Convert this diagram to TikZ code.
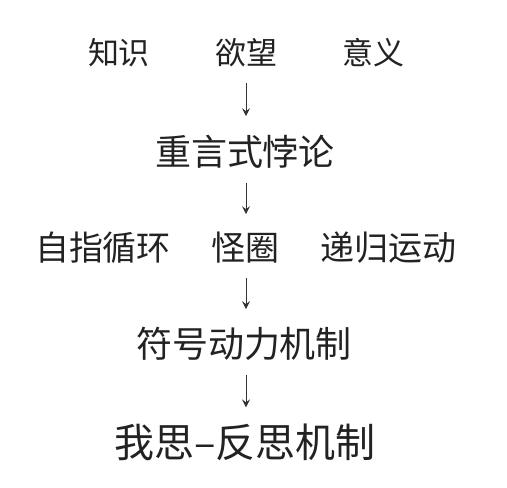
\documentclass[tikz,border=0pt]{standalone}
\usepackage{fontspec}
\newfontfamily\cjk{Noto Sans CJK SC}[Scale=1]
\usetikzlibrary{arrows.meta}
\definecolor{ink}{HTML}{222222}
\definecolor{arrcol}{HTML}{333333}
\tikzset{
  lab/.style={inner sep=0pt, text=ink, font=\cjk\fontsize{#1}{#1}\selectfont},
  arr/.style={draw=arrcol, line width=1pt, -{Stealth[length=8pt,width=8pt,inset=3pt]}, shorten <=#1},
}
\begin{document}
\begin{tikzpicture}[x=1pt,y=-1pt]
\useasboundingbox (0,0) rectangle (507,488);
\node[lab=31] (a1) at (119,53) {知识};
\node[lab=31] (a2) at (246,53) {欲望};
\node[lab=31] (a3) at (373,53) {意义};
\node[lab=36] (b) at (245,152) {重言式悖论};
\node[lab=34] (c1) at (103,248) {自指循环};
\node[lab=34] (c2) at (245,248) {怪圈};
\node[lab=34] (c3) at (388,248) {递归运动};
\node[lab=36] (d) at (244,344) {符号动力机制};
\node[lab=40] (e) at (245,442) {我思–反思机制};
\draw[arr=16pt, shorten >=19pt] (a2.south) -- (a2.south |- b.north);
\draw[arr=14pt, shorten >=18pt] (b.south -| a2.south) -- (a2.south |- c2.north);
\draw[arr=14pt, shorten >=18pt] (c2.south -| a2.south) -- (a2.south |- d.north);
\draw[arr=14pt, shorten >=16pt] (d.south -| a2.south) -- (a2.south |- e.north);
\end{tikzpicture}
\end{document}
